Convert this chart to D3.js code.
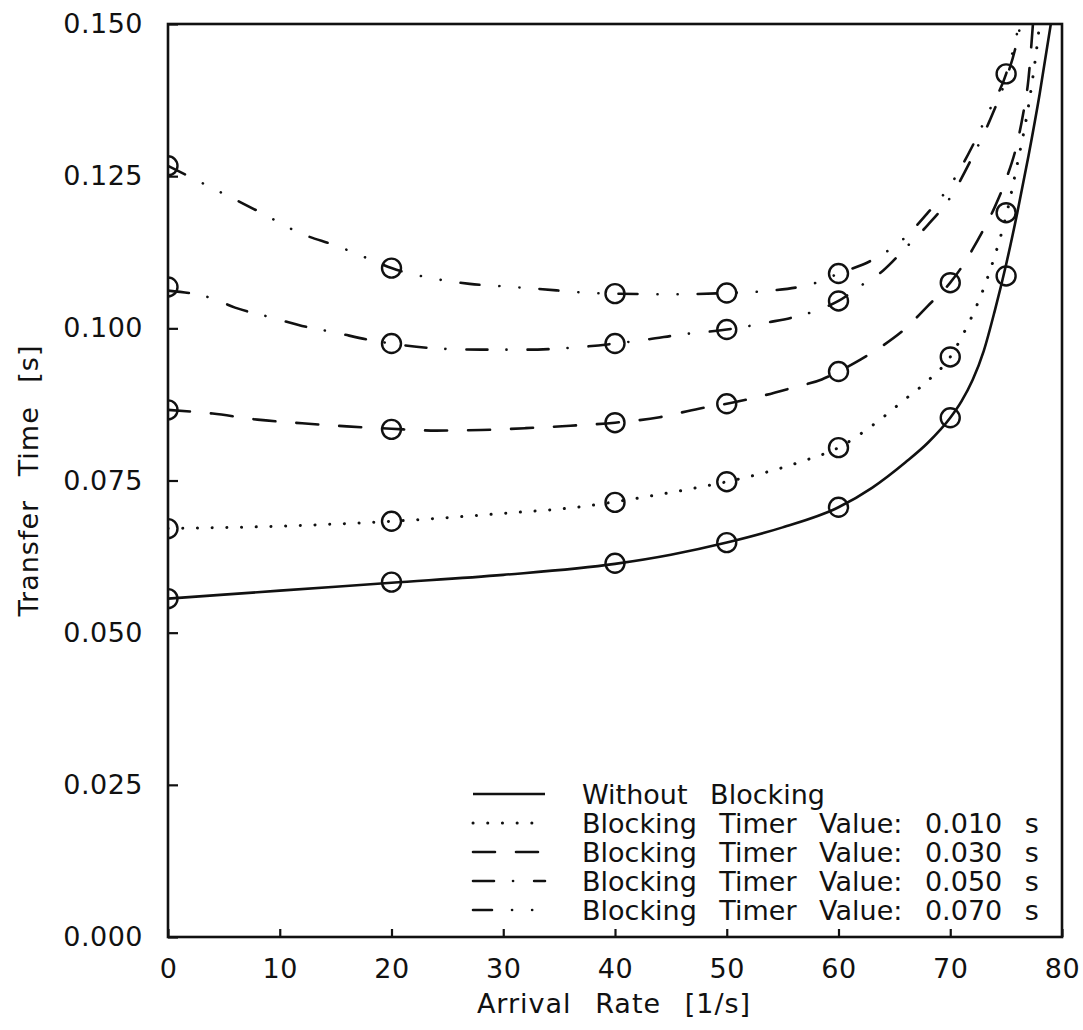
<!DOCTYPE html>
<html><head><meta charset="utf-8">
<script src="https://cdn.jsdelivr.net/npm/d3@7"></script>
<style>
body{margin:0;background:#fff}
text{font-family:"DejaVu Sans",sans-serif;fill:#111}
</style>
</head><body>
<svg id="chart" width="1083" height="1030"></svg>
<script>
// ---- data ----
const xTicks = [0, 10, 20, 30, 40, 50, 60, 70, 80];
const yTicks = [0, 0.025, 0.05, 0.075, 0.1, 0.125, 0.15];
const xLabel = "Arrival Rate [1/s]";
const yLabel = "Transfer Time [s]";
const seriesNames = ["Without Blocking", "Blocking Timer Value: 0.010 s", "Blocking Timer Value: 0.030 s", "Blocking Timer Value: 0.050 s", "Blocking Timer Value: 0.070 s"];

// analytical curves
const curveNone = [[0,.0556],[10,.0569],[20,.0582],[30,.0595],[40,.0613],[45,.0628],[50,.0648],[55,.0673],[60,.0706],[63,.0738],[66,.0780],[68,.0812],[70,.0853],[71,.0880],[72,.0915],[73,.0963],[74,.1030],[75,.1105],[76,.1190],[77,.1283],[78,.1385],[79,.150]];
const curve010 = [[0,.0671],[10,.0675],[20,.0683],[30,.0696],[37,.0707],[40,.0715],[43,.0724],[47,.0737],[50,.0748],[53,.0761],[57,.0783],[60,.0804],[63,.0840],[66,.0884],[68,.0914],[70,.0953],[71,.0985],[72,.1022],[73,.1066],[74,.1120],[75,.1185],[76,.1270],[77,.1365],[77.6,.1440],[78,.150]];
const curve030 = [[0,.0866],[4,.0860],[8,.0850],[12,.0844],[16,.0839],[20,.0835],[24,.0832],[28,.0833],[32,.0836],[36,.0840],[40,.0845],[44,.0854],[47.5,.0868],[50,.0876],[52.5,.0886],[56,.0903],[58.5,.0916],[60,.0929],[62,.0949],[64,.0972],[66,.1000],[68,.1037],[70,.1075],[71,.1100],[72,.1130],[73,.1163],[74,.1200],[75,.1245],[76,.1305],[76.5,.1350],[77,.1410],[77.4,.150]];
const curve050 = [[0,.1062],[4,.1049],[6,.1034],[9,.1019],[12,.1004],[15,.0993],[18,.0981],[20,.0975],[24,.0967],[28,.0965],[32,.0965],[36,.0968],[40,.0975],[43,.0982],[46,.0990],[50,.0998],[53.5,.1009],[57.5,.1026],[60,.1045],[62,.1070],[64,.1095],[66,.1132],[68,.1170],[70,.1215],[72,.1282],[73.5,.1340],[75,.1410],[75.8,.1458],[76.3,.150]];
const curve070 = [[0,.1267],[4,.1230],[8,.1193],[12,.1155],[15,.1136],[18,.1114],[20,.1099],[24,.1081],[27,.1073],[30,.1069],[33,.1065],[38,.1058],[40,.1057],[45,.1056],[50,.1058],[54,.1062],[58,.1075],[60,.1090],[63,.1112],[66,.1150],[68,.1190],[70,.1235],[72,.1300],[73.5,.1358],[75,.1418],[75.8,.1470],[76.15,.150]];

// simulation points (circles)
const pointsNone = [[0,.0556],[20,.0583],[40,.0614],[50,.0648],[60,.0706],[70,.0853],[75,.1086]];
const points010 = [[0,.0671],[20,.0683],[40,.0714],[50,.0748],[60,.0804],[70,.0953],[75,.119]];
const points030 = [[0,.0866],[20,.0834],[40,.0845],[50,.0876],[60,.0929],[70,.1075]];
const points050 = [[0,.1068],[20,.0975],[40,.0975],[50,.0998],[60,.1045]];
const points070 = [[0,.1267],[20,.1099],[40,.1057],[50,.1058],[60,.109],[75,.1418]];

// ---- drawing ----
const curves = [curveNone, curve010, curve030, curve050, curve070];
const points = [pointsNone, points010, points030, points050, points070];
const dashes = [null, "0.1,14.6", "22,21", "21,19,0.1,21", "19,20,0.1,20,0.1,20"];

const L = 168, R = 1062, T = 24, B = 937;
const svg = d3.select("#chart");
const x = d3.scaleLinear().domain([0, 80]).range([L, R]);
const y = d3.scaleLinear().domain([0, 0.15]).range([B, T]);

svg.append("defs").append("clipPath").attr("id", "plotclip")
  .append("rect").attr("x", L).attr("y", T).attr("width", R - L).attr("height", B - T);

const fs = 27;
const gx = svg.append("g").attr("transform", `translate(0,${B})`)
  .call(d3.axisBottom(x).tickValues(xTicks).tickSize(-8).tickPadding(22).tickFormat(d3.format("d")));
const gy = svg.append("g").attr("transform", `translate(${L},0)`)
  .call(d3.axisLeft(y).tickValues(yTicks).tickSize(-10).tickPadding(25).tickFormat(d3.format(".3f")));
[gx, gy].forEach(g => {
  g.select(".domain").remove();
  g.selectAll(".tick line").attr("stroke", "#111").attr("stroke-width", 2.2);
  g.selectAll(".tick text").attr("font-size", fs).attr("font-family", "DejaVu Sans").attr("fill", "#111")
    .style("letter-spacing", "0.5px");
});

// frame
svg.append("rect").attr("x", L).attr("y", T).attr("width", R - L).attr("height", B - T)
  .attr("fill", "none").attr("stroke", "#111").attr("stroke-width", 2.6);

const line = d3.line().x(d => x(d[0])).y(d => y(d[1])).curve(d3.curveMonotoneX);
const plot = svg.append("g").attr("clip-path", "url(#plotclip)");

curves.forEach((c, i) => {
  plot.append("path").datum(c).attr("d", line)
    .attr("fill", "none").attr("stroke", "#111")
    .attr("stroke-width", i === 1 ? 3 : 2.6)
    .attr("stroke-linecap", i === 0 ? "butt" : "round")
    .attr("stroke-dasharray", dashes[i]);
});
points.forEach(p => {
  plot.selectAll(null).data(p).enter().append("circle")
    .attr("cx", d => x(d[0])).attr("cy", d => y(d[1])).attr("r", 9.5)
    .attr("fill", "none").attr("stroke", "#111").attr("stroke-width", 2.4);
});

// legend
const legRows = [794, 823, 852, 881, 910];
seriesNames.forEach((name, i) => {
  svg.append("path").attr("d", d3.line()([[473, legRows[i]], [545, legRows[i]]]))
    .attr("fill", "none").attr("stroke", "#111")
    .attr("stroke-width", i === 1 ? 3 : 2.6)
    .attr("stroke-linecap", i === 0 ? "butt" : "round")
    .attr("stroke-dasharray", dashes[i]);
  svg.append("text").attr("x", 582).attr("y", legRows[i]).attr("dy", "0.36em")
    .attr("font-size", fs).style("word-spacing", "14px").text(name);
});

// axis titles
svg.append("text").attr("x", (L + R) / 2 - 1).attr("y", 1003).attr("dy", "0.36em")
  .attr("text-anchor", "middle").attr("font-size", fs)
  .style("word-spacing", "14px").style("letter-spacing", "1px").text(xLabel);
svg.append("text").attr("transform", `translate(28,${(T + B) / 2}) rotate(-90)`).attr("dy", "0.36em")
  .attr("text-anchor", "middle").attr("font-size", fs)
  .style("word-spacing", "14px").style("letter-spacing", "1px").text(yLabel);
</script>
</body></html>
